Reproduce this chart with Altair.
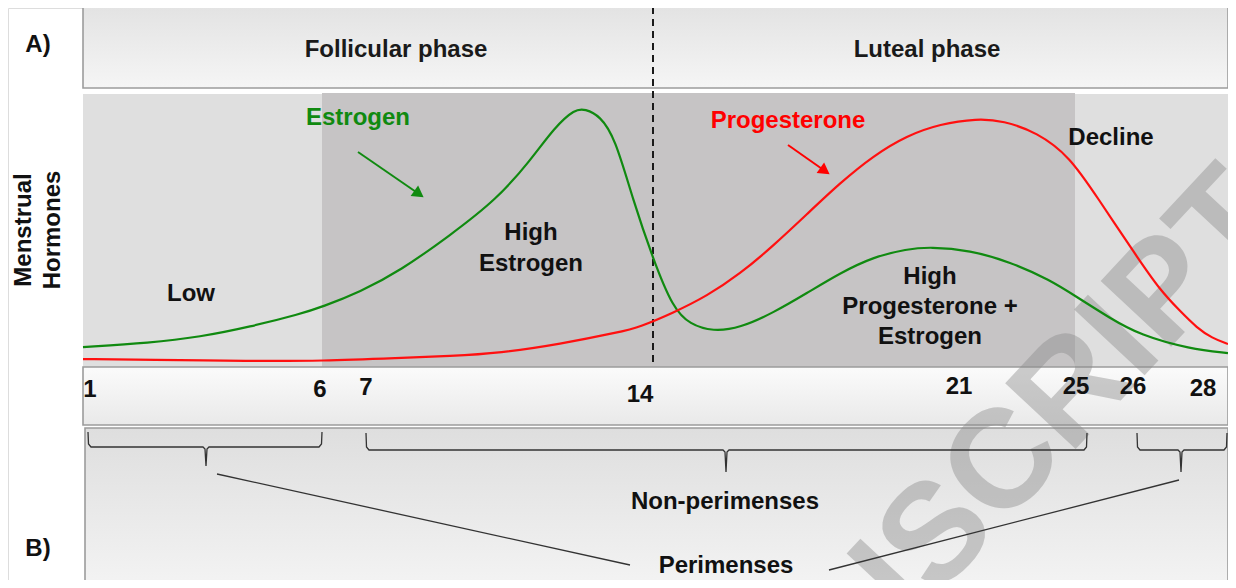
import altair as alt
import pandas as pd

# ---------------- data ----------------
# hormone curves: position along the cycle strip (figure units) and relative level (0-100)
estrogen_pos = [83, 150, 200, 250, 300, 322, 360, 400, 450, 497, 530, 555, 575, 585, 600, 615, 633,
                653, 673, 690, 713, 740, 773, 807, 840, 873, 907, 930, 970, 1010, 1050, 1077,
                1110, 1140, 1190, 1228]
estrogen_level = [7.3, 8.8, 11.0, 14.7, 19.4, 22.0, 27.5, 35.2, 48.2, 61.5, 75.5, 88.0, 94.5, 94.5,
                  92.0, 84.0, 61.2, 39.6, 21.5, 15.6, 13.0, 14.3, 19.8, 27.1, 34.4, 40.3, 43.2, 44.0,
                  42.8, 38.5, 31.9, 25.6, 17.9, 11.7, 6.6, 5.1]
progesterone_pos = [83, 150, 250, 322, 400, 450, 500, 560, 620, 640, 673, 707, 740, 773, 807, 840,
                    873, 907, 940, 977, 1003, 1037, 1070, 1097, 1137, 1160, 1180, 1197, 1212, 1228]
progesterone_level = [2.9, 2.6, 2.2, 2.2, 3.3, 4.0, 5.1, 8.4, 12.8, 14.7, 19.8, 26.0, 34.1, 44.3,
                      56.0, 67.4, 77.3, 84.8, 89.0, 91.0, 90.2, 86.0, 77.0, 62.3, 40.3, 28.2, 20.5,
                      14.3, 10.6, 8.4]

# day tick labels
day_labels = ["1", "6", "7", "14", "21", "25", "26", "28"]
day_label_x = [90, 320, 366, 640, 959, 1076, 1133, 1203]
day_label_y = [390, 390, 388, 395, 387, 387, 387, 389]

# annotation texts
note_text = ["A)", "B)", "Follicular phase", "Luteal phase", "Estrogen", "Progesterone", "Decline",
             "Low", "High", "Estrogen", "High", "Progesterone +", "Estrogen",
             "Non-perimenses", "Perimenses"]
note_x = [38, 38, 396, 927, 358, 788, 1111, 191, 531, 531, 930, 930, 930, 725, 726]
note_y = [45, 549, 50, 50, 118, 121, 138, 294, 233, 264, 277, 307, 337, 502, 566]
note_color = ["#111111", "#111111", "#1a1a1a", "#1a1a1a", "#108a10", "#ff0000", "#111111",
              "#111111", "#111111", "#111111", "#111111", "#111111", "#111111", "#111111", "#111111"]

axis_title = ["Menstrual", "Hormones"]
axis_title_x = [24, 53]
axis_title_y = [230, 230]

# ---------------- layout ----------------
X = alt.Scale(domain=[8, 1228], range=[0, 1220], nice=False, zero=False)
Y = alt.Scale(domain=[8, 580], range=[0, 572], nice=False, zero=False)
LEVEL = alt.Scale(domain=[0, 100], range=[359, 86], nice=False, zero=False)
FONT = "Liberation Sans"


def grad(c0, c1):
    return alt.LinearGradient(gradient="linear",
                              stops=[alt.GradientStop(color=c0, offset=0),
                                     alt.GradientStop(color=c1, offset=1)],
                              x1=0, x2=0, y1=0, y2=1)


def rect(x0, x1, y0, y1, fill, stroke=None):
    df = pd.DataFrame({"x0": [x0], "x1": [x1], "y0": [y0], "y1": [y1]})
    kw = {"fill": fill}
    if stroke:
        kw.update(stroke=stroke, strokeWidth=1.6)
    else:
        kw.update(strokeWidth=0)
    return alt.Chart(df).mark_rect(**kw).encode(
        x=alt.X("x0:Q", scale=X, axis=None), x2="x1:Q",
        y=alt.Y("y0:Q", scale=Y, axis=None), y2="y1:Q")


header = rect(83, 1228, 7, 88, grad("#e3e3e3", "#f5f5f5"), "#9c9c9c")
plot_bg = rect(83, 1228, 94, 367, "#dfdfdf")
peak_bg = rect(322, 1075, 93, 367, "#c6c4c5")
day_strip = rect(83, 1228, 367, 425, grad("#fbfbfb", "#e9e9e9"), "#9c9c9c")
group_strip = rect(85, 1228, 428, 600, grad("#dedede", "#f5f5f5"), "#9c9c9c")

# watermark
wm = alt.Chart(pd.DataFrame({"x": [1256], "y": [194], "t": ["MANUSCRIPT"]})).mark_text(
    font=FONT, fontWeight="bold", fontSize=140, angle=313, align="right", baseline="middle",
    color="#8a8a8a", opacity=0.42).encode(
    x=alt.X("x:Q", scale=X, axis=None), y=alt.Y("y:Q", scale=Y, axis=None), text="t:N")

# ovulation dashed line
ovu = alt.Chart(pd.DataFrame({"x": [653], "y": [7], "y2": [367]})).mark_rule(
    color="#1a1a1a", strokeWidth=2, strokeDash=[7, 5]).encode(
    x=alt.X("x:Q", scale=X, axis=None), y=alt.Y("y:Q", scale=Y, axis=None), y2="y2:Q")

# hormone curves
curves_df = pd.concat([
    pd.DataFrame({"pos": estrogen_pos, "level": estrogen_level, "hormone": "Estrogen"}),
    pd.DataFrame({"pos": progesterone_pos, "level": progesterone_level, "hormone": "Progesterone"}),
])
curves = alt.Chart(curves_df).mark_line(strokeWidth=2.2, interpolate="basis").encode(
    x=alt.X("pos:Q", scale=X, axis=None),
    y=alt.Y("level:Q", scale=LEVEL, axis=None),
    color=alt.Color("hormone:N", scale=alt.Scale(domain=["Estrogen", "Progesterone"],
                                                 range=["#108a10", "#ff1010"]), legend=None))

# brackets and connector lines (polyline vertices)
br_x, br_y, br_g, br_o = [], [], [], []


def add_path(name, xs, ys):
    for i, (a, b) in enumerate(zip(xs, ys)):
        br_x.append(a); br_y.append(b); br_g.append(name); br_o.append(i)


def brace(name, x0, x1, xm, top, mid, tip):
    add_path(name,
             [x0, x0 + 0.5, x0 + 3, xm - 3, xm - 1, xm, xm + 1, xm + 3, x1 - 3, x1 - 0.5, x1],
             [top, mid - 3, mid, mid, mid + 2, tip, mid + 2, mid, mid, mid - 3, top])


brace("b1", 88, 322, 206, 432, 447, 466)
brace("b2", 366, 1087, 726, 433, 450, 472)
brace("b3", 1137, 1227, 1181, 433, 450, 472)
add_path("l1", [217, 630], [474, 565])
add_path("l2", [1179, 829], [480, 570])
paths = alt.Chart(pd.DataFrame({"x": br_x, "y": br_y, "g": br_g, "o": br_o})).mark_line(
    color="#333333", strokeWidth=1.3).encode(
    x=alt.X("x:Q", scale=X, axis=None), y=alt.Y("y:Q", scale=Y, axis=None),
    detail="g:N", order="o:Q")

# arrows
arrows_df = pd.DataFrame({"x": [358, 788], "y": [152, 145], "x2": [419, 825], "y2": [194, 171],
                          "c": ["#108a10", "#ff0000"]})
arrow_lines = alt.Chart(arrows_df).mark_rule(strokeWidth=2).encode(
    x=alt.X("x:Q", scale=X, axis=None), y=alt.Y("y:Q", scale=Y, axis=None),
    x2="x2:Q", y2="y2:Q", color=alt.Color("c:N", scale=None))
arrow_heads = alt.Chart(arrows_df).mark_point(shape="triangle-up", filled=True, size=170,
                                              angle=125, opacity=1).encode(
    x=alt.X("x2:Q", scale=X, axis=None), y=alt.Y("y2:Q", scale=Y, axis=None),
    color=alt.Color("c:N", scale=None))

# texts
notes = alt.Chart(pd.DataFrame({"x": note_x, "y": note_y, "t": note_text, "c": note_color})).mark_text(
    font=FONT, fontWeight="bold", fontSize=24, align="center", baseline="middle").encode(
    x=alt.X("x:Q", scale=X, axis=None), y=alt.Y("y:Q", scale=Y, axis=None), text="t:N",
    color=alt.Color("c:N", scale=None))
days = alt.Chart(pd.DataFrame({"x": day_label_x, "y": day_label_y, "t": day_labels})).mark_text(
    font=FONT, fontWeight="bold", fontSize=24, align="center", baseline="middle", color="#111111").encode(
    x=alt.X("x:Q", scale=X, axis=None), y=alt.Y("y:Q", scale=Y, axis=None), text="t:N")
ytitle = alt.Chart(pd.DataFrame({"x": axis_title_x, "y": axis_title_y, "t": axis_title})).mark_text(
    font=FONT, fontWeight="bold", fontSize=24, align="center", baseline="middle", angle=270,
    color="#111111").encode(
    x=alt.X("x:Q", scale=X, axis=None), y=alt.Y("y:Q", scale=Y, axis=None), text="t:N")

chart = alt.layer(
    header, plot_bg, peak_bg, day_strip, group_strip, wm, ovu, curves, paths,
    arrow_lines, arrow_heads, notes, days, ytitle
).resolve_scale(y="independent").properties(
    width=1220, height=572, padding=0, autosize=alt.AutoSizeParams(type="none")
).configure_view(stroke=None).configure(background="white")

chart.save("out.html", embed_options={"renderer": "svg", "actions": False})
